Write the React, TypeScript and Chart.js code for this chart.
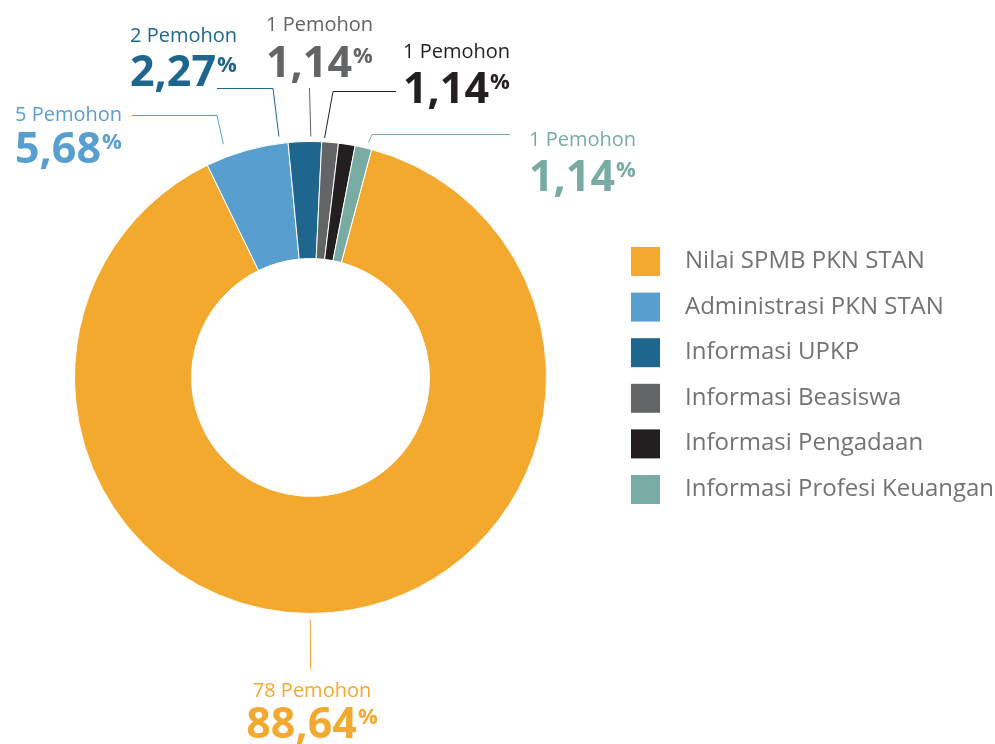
import React, { useEffect, useRef } from "react";
import { Chart, registerables } from "chart.js";

Chart.register(...registerables);

const CATEGORIES = [
  "Nilai SPMB PKN STAN",
  "Administrasi PKN STAN",
  "Informasi UPKP",
  "Informasi Beasiswa",
  "Informasi Pengadaan",
  "Informasi Profesi Keuangan",
];
const APPLICANTS = [78, 5, 2, 1, 1, 1];
const COLORS = ["#F3A92E", "#589FD0", "#1F668F", "#636466", "#231F20", "#78ABA4"];

// annotation layout (leader lines + label text), canvas pixels
const LABEL_LAYOUT = [
  { angleOffset: 5.5, gap: 6, path: [[310.5, 669]], textX: 312, align: "center", y1: 697, y2: 738 },
  { angleOffset: -4.8, gap: 13, path: [[217, 115.5], [132, 115.5]], textX: 15, align: "left", y1: 121, y2: 163 },
  { angleOffset: -6.1, gap: 7, path: [[273, 88.5], [217, 88.5]], textX: 130, align: "left", y1: 42, y2: 86 },
  { angleOffset: -4.7, gap: 5, path: [[309.5, 88]], textX: 266, align: "left", y1: 31, y2: 77 },
  { angleOffset: -5.5, gap: 4, path: [[333, 91.5], [396, 91.5]], textX: 403, align: "left", y1: 58, y2: 103 },
  { angleOffset: 0.9, gap: 6, path: [[372, 134.5], [510, 134.5]], textX: 529, align: "left", y1: 146, y2: 191 },
];

const FONT = '"Open Sans", "Noto Sans", sans-serif';

const annotationPlugin = {
  id: "annotations",
  afterDraw(chart: any) {
    const ctx = chart.ctx;
    const meta = chart.getDatasetMeta(0);
    const data = chart.data.datasets[0].data as number[];
    const colors = chart.data.datasets[0].backgroundColor as string[];
    const total = data.reduce((a, b) => a + b, 0);
    ctx.save();
    meta.data.forEach((arc: any, i: number) => {
      const lay = LABEL_LAYOUT[i];
      const p = arc.getProps(["startAngle", "endAngle", "outerRadius", "x", "y"], true);
      const mid = (p.startAngle + p.endAngle) / 2 + (lay.angleOffset * Math.PI) / 180;
      const r = p.outerRadius + lay.gap;
      const ax = p.x + Math.cos(mid) * r;
      const ay = p.y + Math.sin(mid) * r;
      ctx.strokeStyle = colors[i];
      ctx.lineWidth = 1;
      ctx.beginPath();
      ctx.moveTo(ax, ay);
      lay.path.forEach(([px, py]) => ctx.lineTo(px, py));
      ctx.stroke();

      const line1 = `${data[i]} Pemohon`;
      const pct = ((data[i] / total) * 100).toFixed(2).replace(".", ",");
      ctx.fillStyle = colors[i];
      ctx.textBaseline = "alphabetic";
      ctx.font = `400 20px ${FONT}`;
      const w1 = ctx.measureText(line1).width;
      ctx.font = `700 43px ${FONT}`;
      const wBig = ctx.measureText(pct).width;
      ctx.font = `700 22px ${FONT}`;
      const wPct = ctx.measureText("%").width;
      let x1 = lay.textX;
      let x2 = lay.textX;
      if (lay.align === "center") {
        x1 = lay.textX - w1 / 2;
        x2 = lay.textX - (wBig + 1 + wPct) / 2;
      }
      ctx.textAlign = "left";
      ctx.font = `400 20px ${FONT}`;
      ctx.fillText(line1, x1, lay.y1);
      ctx.font = `700 43px ${FONT}`;
      ctx.fillText(pct, x2, lay.y2);
      ctx.font = `700 22px ${FONT}`;
      ctx.fillText("%", x2 + wBig + 1, lay.y2 - 14);
    });

    // legend
    const labels = chart.data.labels as string[];
    labels.forEach((lab, i) => {
      const top = 247 + i * 45.6;
      ctx.fillStyle = colors[i];
      ctx.fillRect(631, top, 29, 29);
      ctx.fillStyle = "#737373";
      ctx.font = `400 24px ${FONT}`;
      ctx.textAlign = "left";
      ctx.textBaseline = "alphabetic";
      ctx.fillText(lab, 685, top + 21);
    });
    ctx.restore();
  },
};

export default function App() {
  const ref = useRef<HTMLCanvasElement>(null);
  useEffect(() => {
    if (!ref.current) return;
    const chart = new Chart(ref.current, {
      type: "doughnut",
      data: {
        labels: CATEGORIES,
        datasets: [
          {
            data: APPLICANTS,
            backgroundColor: COLORS,
            borderColor: "#ffffff",
            borderWidth: 1,
            hoverOffset: 0,
          },
        ],
      },
      options: {
        responsive: false,
        animation: false,
        rotation: 15,
        cutout: "50.4%",
        layout: { padding: { left: 74, top: 141, right: 448, bottom: 130 } },
        plugins: {
          legend: { display: false },
          tooltip: { enabled: false },
        },
      },
      plugins: [annotationPlugin],
    });
    return () => chart.destroy();
  }, []);
  return (
    <div style={{ position: "fixed", left: 0, top: 0, width: 995, height: 744, background: "#fff" }}>
      <canvas ref={ref} width={995} height={744} style={{ display: "block" }} />
    </div>
  );
}
